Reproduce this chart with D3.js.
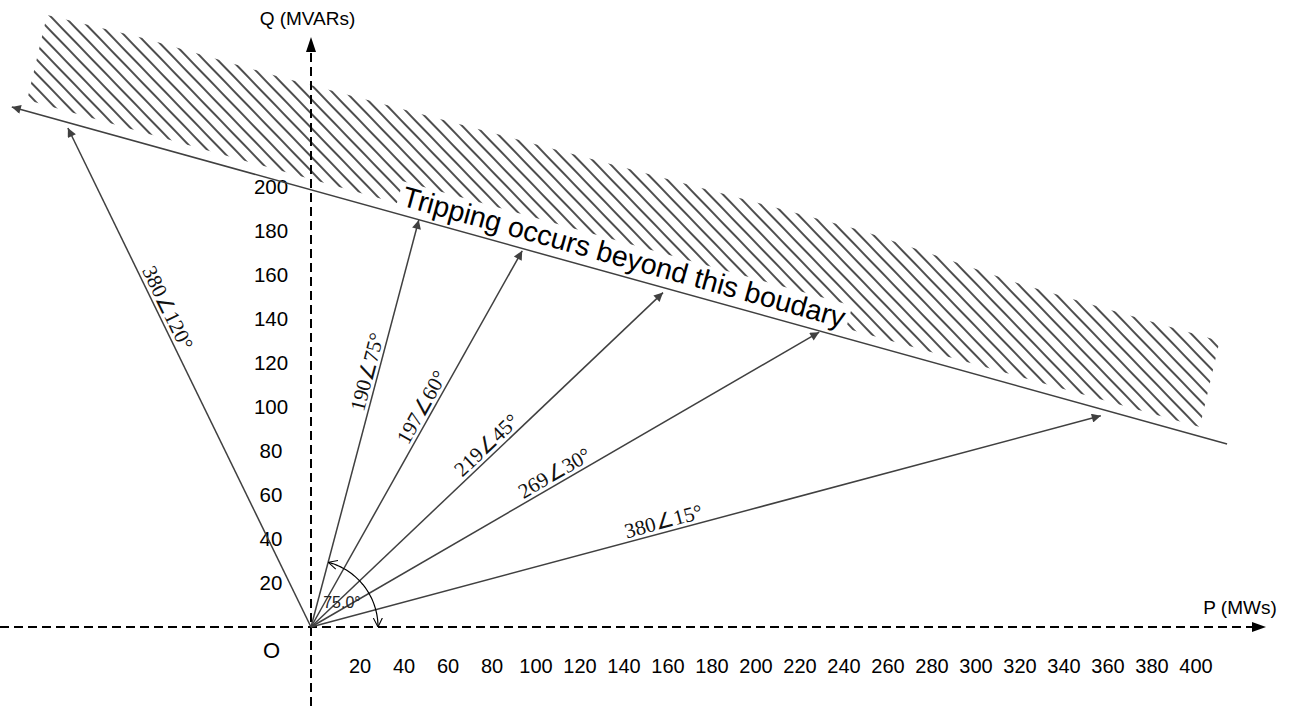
<!DOCTYPE html>
<html>
<head>
<meta charset="utf-8">
<script src="https://cdn.jsdelivr.net/npm/d3@7"></script>
<style>
  html, body { margin: 0; padding: 0; background: #fff; }
  svg { display: block; }
</style>
</head>
<body>
<svg id="chart" width="1298" height="706"></svg>
<script>
// ---------------- data ----------------
const xTickValues = [20, 40, 60, 80, 100, 120, 140, 160, 180, 200, 220, 240, 260, 280, 300, 320, 340, 360, 380, 400];
const yTickValues = [20, 40, 60, 80, 100, 120, 140, 160, 180, 200];
const vectorLabels = ["380∠120°", "190∠75°", "197∠60°", "219∠45°", "269∠30°", "380∠15°"];
const vectorP = [-110.5, 49, 96, 160, 231, 359];   // MW at arrow tip
const vectorQ = [226.8, 185, 171, 152, 134, 96];   // MVAR at arrow tip
const boundaryP = [-136, 416.4];
const boundaryQ = [236.4, 83.2];
const hatchP = [-120, -76.4, -14.1, 48.2, 249.5, 321, 358.6, 413, 404, -129];
const hatchQ = [278.2, 267.7, 250, 233.6, 180.5, 156.4, 145.5, 130, 90.9, 239.5];
const arcAngleDeg = 75;
const arcLabel = "75.0°";
const boundaryText = "Tripping occurs beyond this boudary";

// ---------------- layout ----------------
const x = d3.scaleLinear().domain([0, 400]).range([311, 1191]);
const y = d3.scaleLinear().domain([0, 200]).range([627, 187]);
const labelT = [0.63, 0.62, 0.57, 0.52, 0.49, 0.45];
const svg = d3.select("#chart");
const ox = x(0), oy = y(0);
const vecColor = "#404040";

const defs = svg.append("defs");
defs.append("marker").attr("id", "headV")
  .attr("viewBox", "0 -5 10 10").attr("refX", 10).attr("refY", 0)
  .attr("markerUnits", "userSpaceOnUse").attr("markerWidth", 13).attr("markerHeight", 9)
  .attr("orient", "auto-start-reverse")
  .append("path").attr("d", "M0,-5L10,0L0,5Z").attr("fill", vecColor);
defs.append("marker").attr("id", "headOpen")
  .attr("viewBox", "0 -6 10 12").attr("refX", 10).attr("refY", 0)
  .attr("markerUnits", "userSpaceOnUse").attr("markerWidth", 9).attr("markerHeight", 11)
  .attr("orient", "auto-start-reverse")
  .append("path").attr("d", "M0,-5L10,0L0,5").attr("fill", "none").attr("stroke", "#000").attr("stroke-width", 1.2);
const pat = defs.append("pattern").attr("id", "hatch")
  .attr("patternUnits", "userSpaceOnUse").attr("width", 20).attr("height", 10)
  .attr("patternTransform", "rotate(46)");
pat.append("line").attr("x1", 0).attr("x2", 20).attr("y1", 5).attr("y2", 5)
  .attr("stroke", "#3a3a3a").attr("stroke-width", 1.8);

// hatched region
const hatchPts = hatchP.map((p, i) => [x(p), y(hatchQ[i])]);
svg.append("path")
  .attr("d", d3.line().curve(d3.curveLinearClosed)(hatchPts))
  .attr("fill", "url(#hatch)").attr("stroke", "none");

// axes (dashed)
svg.append("line").attr("x1", 0).attr("y1", oy).attr("x2", 1252).attr("y2", oy)
  .attr("stroke", "#000").attr("stroke-width", 2).attr("stroke-dasharray", "9,5");
svg.append("path").attr("d", `M1252,${oy - 5}L1266,${oy}L1252,${oy + 5}Z`).attr("fill", "#000");
svg.append("line").attr("x1", ox).attr("y1", 706).attr("x2", ox).attr("y2", 52)
  .attr("stroke", "#000").attr("stroke-width", 2).attr("stroke-dasharray", "9,5");
svg.append("path").attr("d", `M${ox - 5},52L${ox},37L${ox + 5},52Z`).attr("fill", "#000");

// tick labels
svg.append("g").selectAll("text").data(xTickValues).join("text")
  .attr("x", d => x(d) + 5).attr("y", 673)
  .attr("text-anchor", "middle")
  .attr("font-family", "'Liberation Sans', Arial, sans-serif").attr("font-size", 20)
  .attr("fill", "#000").text(d => d);
svg.append("g").selectAll("text").data(yTickValues).join("text")
  .attr("x", 271).attr("y", d => y(d)).attr("dy", "0.36em")
  .attr("text-anchor", "middle")
  .attr("font-family", "'Liberation Sans', Arial, sans-serif").attr("font-size", 20.5)
  .attr("fill", "#000").text(d => d);

svg.append("text").attr("x", 307.5).attr("y", 25).attr("text-anchor", "middle")
  .attr("font-family", "'Liberation Sans', Arial, sans-serif").attr("font-size", 19)
  .text("Q (MVARs)");
svg.append("text").attr("x", 1240).attr("y", 614).attr("text-anchor", "middle")
  .attr("font-family", "'Liberation Sans', Arial, sans-serif").attr("font-size", 19)
  .text("P (MWs)");
svg.append("text").attr("x", 271.5).attr("y", 658).attr("text-anchor", "middle")
  .attr("font-family", "'Liberation Sans', Arial, sans-serif").attr("font-size", 22)
  .text("O");

// boundary text (with white backing that clears the hatch)
const bx0 = x(boundaryP[0]), by0 = y(boundaryQ[0]), bx1 = x(boundaryP[1]), by1 = y(boundaryQ[1]);
const bAng = Math.atan2(by1 - by0, bx1 - bx0) * 180 / Math.PI;
const tStart = (398 - bx0) / (bx1 - bx0);
const tg = svg.append("g")
  .attr("transform", `translate(${bx0 + tStart * (bx1 - bx0)},${by0 + tStart * (by1 - by0)}) rotate(${bAng})`);
const bgRect = tg.append("rect").attr("fill", "#fff");
const bText = tg.append("text")
  .attr("y", -9)
  .attr("font-family", "'Liberation Sans', Arial, sans-serif").attr("font-size", 28.5)
  .attr("fill", "#000").text(boundaryText);
const tl = bText.node().getComputedTextLength();
bgRect.attr("x", -4).attr("y", -33).attr("width", tl + 8).attr("height", 33);

// boundary line
svg.append("line")
  .attr("x1", x(boundaryP[1])).attr("y1", y(boundaryQ[1]))
  .attr("x2", x(boundaryP[0])).attr("y2", y(boundaryQ[0]))
  .attr("stroke", vecColor).attr("stroke-width", 1.5)
  .attr("marker-end", "url(#headV)");

// vectors
const vecs = vectorLabels.map((lab, i) => ({ lab, P: vectorP[i], Q: vectorQ[i], t: labelT[i] }));
svg.append("g").selectAll("line").data(vecs).join("line")
  .attr("x1", ox).attr("y1", oy)
  .attr("x2", d => x(d.P)).attr("y2", d => y(d.Q))
  .attr("stroke", vecColor).attr("stroke-width", 1.5)
  .attr("marker-end", "url(#headV)");

svg.append("g").selectAll("text").data(vecs).join("text")
  .attr("transform", d => {
    const tx = x(d.P), ty = y(d.Q);
    let a = Math.atan2(ty - oy, tx - ox) * 180 / Math.PI;
    if (tx < ox) a += 180;
    const px = ox + d.t * (tx - ox), py = oy + d.t * (ty - oy);
    return `translate(${px},${py}) rotate(${a})`;
  })
  .attr("y", -4).attr("text-anchor", "middle")
  .attr("font-family", "'Liberation Serif', 'Times New Roman', serif").attr("font-size", 21)
  .attr("fill", "#111").text(d => d.lab);

// angle arc
const r = 67;
const a0 = 0, a1 = arcAngleDeg * Math.PI / 180;
const arcPts = d3.range(0, 41).map(k => {
  const a = a0 + (a1 - a0) * k / 40;
  return [ox + r * Math.cos(a), oy - r * Math.sin(a)];
});
svg.append("path")
  .attr("d", d3.line()(arcPts))
  .attr("fill", "none").attr("stroke", "#000").attr("stroke-width", 1.2)
  .attr("marker-start", "url(#headOpen)").attr("marker-end", "url(#headOpen)");
svg.append("text").attr("x", 342).attr("y", 608).attr("text-anchor", "middle")
  .attr("font-family", "'Liberation Sans', Arial, sans-serif").attr("font-size", 16)
  .attr("fill", "#222").text(arcLabel);
</script>
</body>
</html>
